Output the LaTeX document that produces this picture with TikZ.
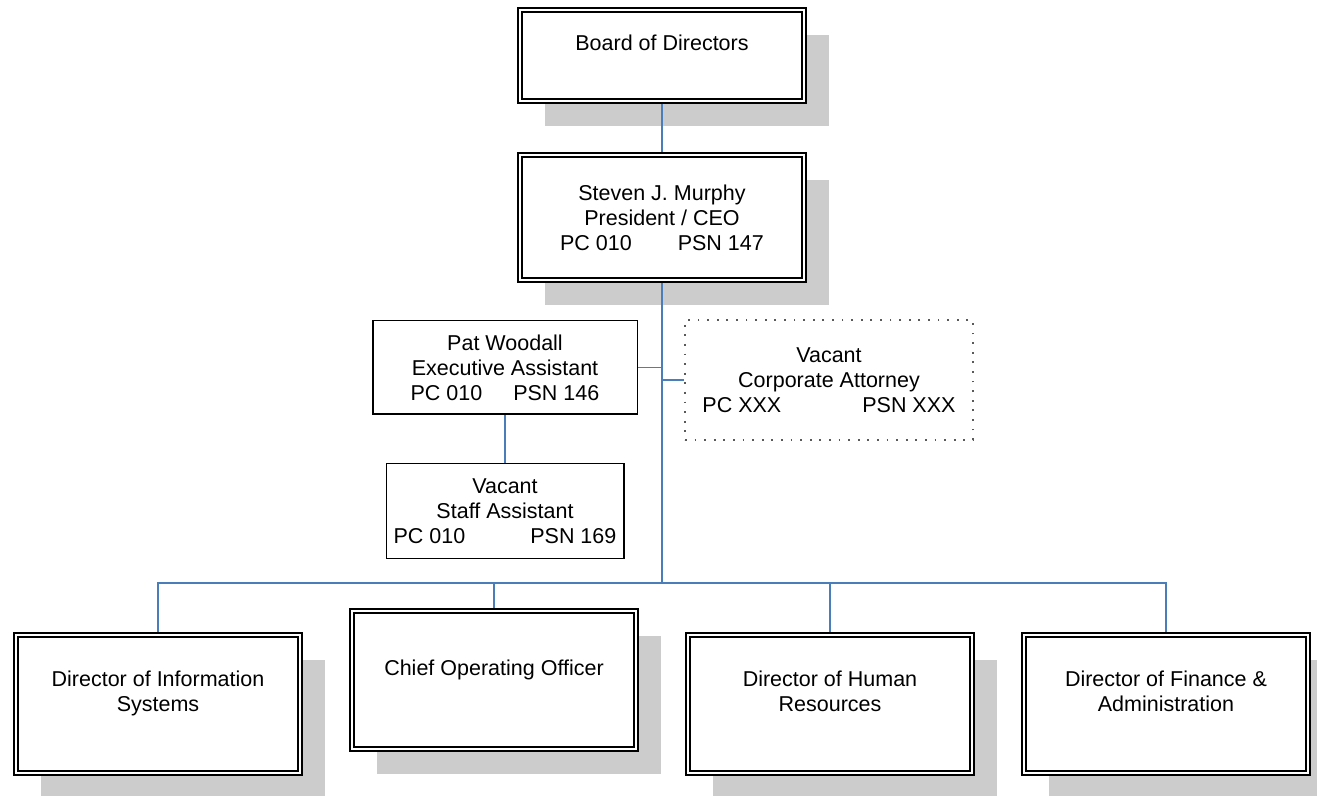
\documentclass[tikz,border=0pt]{standalone}
\usepackage{fontspec}
\setmainfont{Liberation Sans}
\usetikzlibrary{shadows}
\definecolor{linkblue}{HTML}{4A7EBB}

\begin{document}
\begin{tikzpicture}[x=0.5pt,y=-0.5pt,
	every node/.style={font=\fontsize{10.75}{12.5}\selectfont,align=center},
	dbox/.style={rectangle,draw,double,double distance=1pt,line width=0.9pt,outer sep=1.4pt,fill=white,
		drop shadow={shadow xshift=12.5pt,shadow yshift=-12.5pt,fill=black!20,opacity=1},
		minimum width=142pt,minimum height=#1},
	sbox/.style={rectangle,draw,line width=0.75pt,fill=white},
	abox/.style={rectangle,draw=black!65,line width=0.9pt,dash pattern=on 0.9pt off 3.9pt},
	link/.style={draw=linkblue,line width=0.8pt}]
\useasboundingbox (0,0) rectangle (1317,796);

\node [dbox=45.5pt] (board) at (662,55.5) {Board of Directors\\~};
\node [dbox=62.5pt] (ceo) at (662,217.5) {Steven J. Murphy\\President / CEO\\PC 010\hspace{23pt}PSN 147};
\node [sbox,minimum width=132.25pt,minimum height=46.75pt] (pat) at (505,367.5) {Pat Woodall\\Executive Assistant\\PC 010\hspace{15.5pt}PSN 146};
\node [sbox,minimum width=118.75pt,minimum height=47.25pt] (staff) at (505,511) {Vacant\\Staff Assistant\\PC 010\hspace{32.5pt}PSN 169};
\node [abox,minimum width=144pt,minimum height=60pt] (atty) at (829,380) {Vacant\\Corporate Attorney\\PC XXX\hspace{40.5pt}PSN XXX};
\node [dbox=69pt] (dis) at (158,704) {Director of Information\\Systems\\~};
\node [dbox=69pt] (coo) at (494,680) {Chief Operating Officer\\~};
\node [dbox=69pt] (dhr) at (830,704) {Director of Human\\Resources\\~};
\node [dbox=69pt] (dfa) at (1166,704) {Director of Finance \&\\Administration\\~};

\coordinate (bus) at (662,583);
\draw [link] (board.south) -- (ceo.north);
\draw [link] (ceo.south) -- (bus);
\draw [link] (pat.east) -- (pat.east -| bus);
\draw [link] (atty.west) -- (atty.west -| bus);
\draw [link] (pat.south) -- (staff.north);
\draw [link] (bus) -| (dis.north);
\draw [link] (bus) -| (coo.north);
\draw [link] (bus) -| (dhr.north);
\draw [link] (bus) -| (dfa.north);
\end{tikzpicture}
\end{document}
